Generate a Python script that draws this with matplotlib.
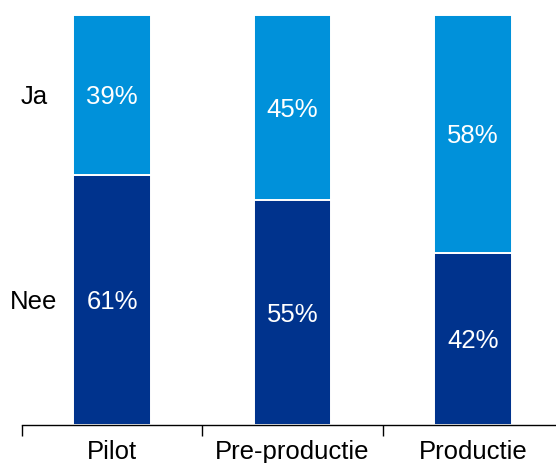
import matplotlib
matplotlib.use("Agg")
import matplotlib.pyplot as plt
import numpy as np

categories = ["Pilot", "Pre-productie", "Productie"]
nee = [61, 55, 42]
ja = [39, 45, 58]
series_labels = ["Nee", "Ja"]

dark = "#00338D"
light = "#0091DA"

plt.rcParams['font.family'] = ['Liberation Sans', 'DejaVu Sans']

fig = plt.figure(figsize=(5.56, 4.63), dpi=100)
ax = fig.add_axes([22/556, 38/463, 541/556, 410/463])

x = np.arange(len(categories))
w = 0.43
nee_f = np.array(nee) / 100
ja_f = np.array(ja) / 100
ax.bar(x, nee_f, width=w, color=dark, edgecolor="white", linewidth=1.4)
ax.bar(x, ja_f, width=w, bottom=nee_f, color=light, edgecolor="white", linewidth=1.4)

fs = 18.5
for i in range(len(categories)):
    ax.text(x[i], nee_f[i] / 2, f"{nee[i]}%", ha="center", va="center_baseline", color="white", fontsize=fs)
    ax.text(x[i], nee_f[i] + ja_f[i] / 2, f"{ja[i]}%", ha="center", va="center_baseline", color="white", fontsize=fs)

ax.text(-0.434, nee_f[0] / 2, series_labels[0], ha="center", va="center_baseline", color="black", fontsize=fs)
ax.text(-0.434, nee_f[0] + ja_f[0] / 2, series_labels[1], ha="center", va="center_baseline", color="black", fontsize=fs)

ax.set_xlim(-0.5, 2.5)
ax.set_ylim(0, 1)
for s in ["top", "right", "left"]:
    ax.spines[s].set_visible(False)
ax.spines["bottom"].set_color("black")
ax.spines["bottom"].set_linewidth(1.0)
ax.set_yticks([])
ax.set_xticks(x)
ax.set_xticklabels(categories, fontsize=fs)
ax.tick_params(axis="x", which="major", length=0, pad=11)
ax.set_xticks([-0.5, 0.5, 1.5], minor=True)
ax.tick_params(axis="x", which="minor", length=8, width=1.0, color="black")

fig.savefig("out.png", dpi=100)
